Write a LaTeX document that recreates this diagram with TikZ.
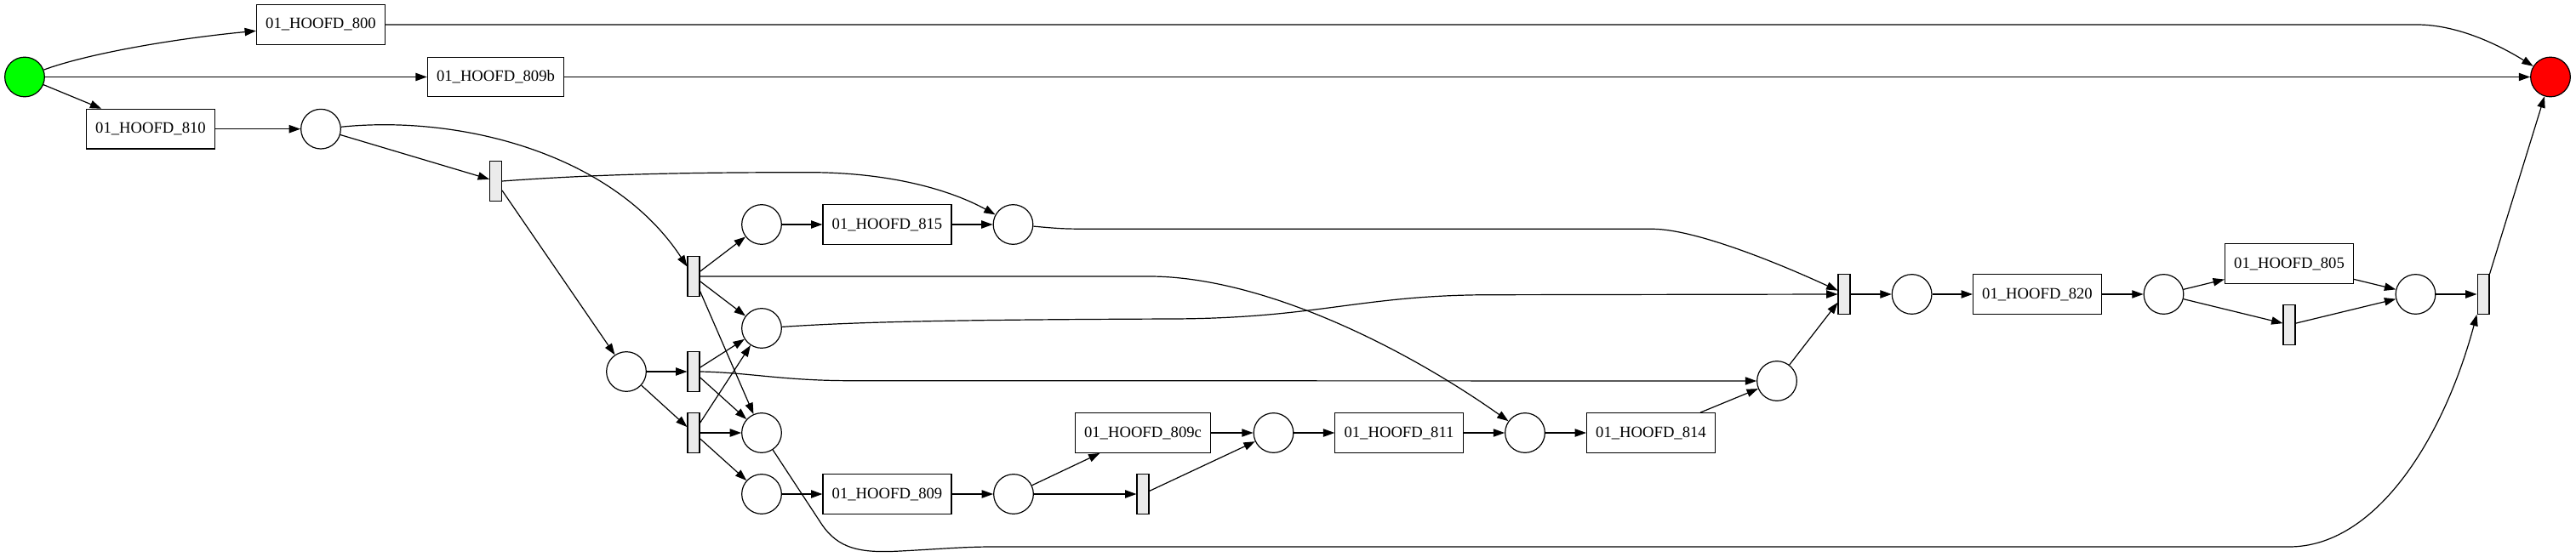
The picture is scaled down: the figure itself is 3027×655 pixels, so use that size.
\documentclass[tikz,border=0pt]{standalone}
\usepackage{fontspec}
\setmainfont{Liberation Serif}
\usetikzlibrary{arrows.meta}
\definecolor{tgray}{RGB}{235,235,235}
\definecolor{pgreen}{RGB}{0,255,0}
\definecolor{pred}{RGB}{255,0,0}
\begin{document}
\begin{tikzpicture}[x=0.75pt,y=-0.75pt,
  every node/.style={font=\fontsize{14}{16}\selectfont},
  place/.style={circle,draw,line width=0.9pt,minimum size=35pt,inner sep=0pt},
  trans/.style={rectangle,draw,line width=0.9pt,fill=tgray,minimum width=10.4pt,minimum height=35pt,inner sep=0pt},
  task/.style={rectangle,draw,line width=0.9pt,minimum height=35pt,inner xsep=8pt,inner ysep=0pt},
  arr/.style={-{Triangle[length=10pt,width=7pt]},line width=0.9pt}]
\useasboundingbox (0,0) rectangle (3027,655);
% nodes
\node[place,fill=pgreen] (start) at (29,90.5) {};
\node[place,fill=pred] (end) at (2997,90.5) {};
\node[task] (b800) at (377,29) {01\_HOOFD\_800};
\node[task] (b809b) at (582.5,90.5) {01\_HOOFD\_809b};
\node[task] (b810) at (177,151.7) {01\_HOOFD\_810};
\node[place] (p1) at (377,151.7) {};
\node[trans] (t1) at (582.5,213) {};
\node[trans] (t2) at (815,325) {};
\node[trans] (t3) at (815,437) {};
\node[trans] (t4) at (815,509) {};
\node[place] (pD) at (736,437) {};
\node[place] (pA) at (895,264) {};
\node[task] (b815) at (1042.5,264) {01\_HOOFD\_815};
\node[place] (pB) at (1190.5,264) {};
\node[place] (pC) at (895,386) {};
\node[place] (pE) at (895,509) {};
\node[place] (pF) at (895,581) {};
\node[task] (b809) at (1042.5,581) {01\_HOOFD\_809};
\node[place] (pG) at (1191,581) {};
\node[trans] (t5) at (1343,581) {};
\node[task] (b809c) at (1343,509) {01\_HOOFD\_809c};
\node[place] (pH) at (1496.5,509) {};
\node[task] (b811) at (1644,509) {01\_HOOFD\_811};
\node[place] (pI) at (1792,509) {};
\node[task] (b814) at (1940,509) {01\_HOOFD\_814};
\node[place] (pJ) at (2088,448) {};
\node[trans] (t6) at (2167,346) {};
\node[place] (pK) at (2246.6,346) {};
\node[task] (b820) at (2394,346) {01\_HOOFD\_820};
\node[place] (pL) at (2542.5,346) {};
\node[task] (b805) at (2690,310) {01\_HOOFD\_805};
\node[trans] (t7) at (2690,382) {};
\node[place] (pM) at (2838.5,346) {};
\node[trans] (t8) at (2918,346) {};
% edges
\draw[arr] (start) .. controls (100,64) and (200,46) .. (b800);
\draw[arr] (start) -- (b809b);
\draw[arr] (start) -- (b810);
\draw[arr] (b810) -- (p1);
\draw[arr] (p1) -- (t1);
\draw[arr] (p1) .. controls (540,135) and (720,180) .. (t2);
\draw[arr] (t1.east) .. controls (700,205) and (800,202.7) .. (950,202.7) .. controls (1050,202.7) and (1120,225) .. (pB);
\draw[arr] (t1) -- (pD);
\draw[arr] (t2) -- (pA);
\draw[arr] (pA) -- (b815);
\draw[arr] (b815) -- (pB);
\draw[arr] (t2.east) -- (1350,325) .. controls (1480,325) and (1645,405) .. (pI);
\draw[arr] (t2) -- (pC);
\draw[arr] (t2) -- (pE);
\draw[arr] (pB) .. controls (1250,269.3) .. (1300,269.3) -- (1943,269.3) .. controls (1990,270) and (2080,305) .. (t6.150);
\draw[arr] (pC) .. controls (1000,379) and (1100,376) .. (1380,375) .. controls (1550,374) and (1600,346.7) .. (1753,346.7) -- (t6);
\draw[arr] (t3) -- (pC);
\draw[arr] (t3.east) .. controls (880,438) and (920,447.7) .. (1000,447.7) -- (pJ);
\draw[arr] (t3) -- (pE);
\draw[arr] (pD) -- (t3);
\draw[arr] (pD) -- (t4);
\draw[arr] (t4) -- (pC);
\draw[arr] (t4) -- (pE);
\draw[arr] (t4) -- (pF);
\draw[arr] (pE) -- (965.7,616.7) .. controls (985,645) and (1010,650) .. (1052,648.3) .. controls (1100,646) and (1130,643) .. (1167,643) -- (2690,643) .. controls (2790,643) and (2870,520) .. (t8.south west);
\draw[arr] (pF) -- (b809);
\draw[arr] (b809) -- (pG);
\draw[arr] (pG) -- (b809c);
\draw[arr] (pG) -- (t5);
\draw[arr] (b809c) -- (pH);
\draw[arr] (t5) -- (pH);
\draw[arr] (pH) -- (b811);
\draw[arr] (b811) -- (pI);
\draw[arr] (pI) -- (b814);
\draw[arr] (b814) -- (pJ);
\draw[arr] (pJ) -- (t6);
\draw[arr] (t6) -- (pK);
\draw[arr] (pK) -- (b820);
\draw[arr] (b820) -- (pL);
\draw[arr] (pL) -- (b805);
\draw[arr] (pL) -- (t7);
\draw[arr] (b805) -- (pM);
\draw[arr] (t7) -- (pM);
\draw[arr] (pM) -- (t8);
\draw[arr] (t8.north east) -- (end);
\draw[arr] (b800.east) -- (2840,29) .. controls (2890,29) and (2940,55) .. (end);
\draw[arr] (b809b) -- (end);
\end{tikzpicture}
\end{document}
